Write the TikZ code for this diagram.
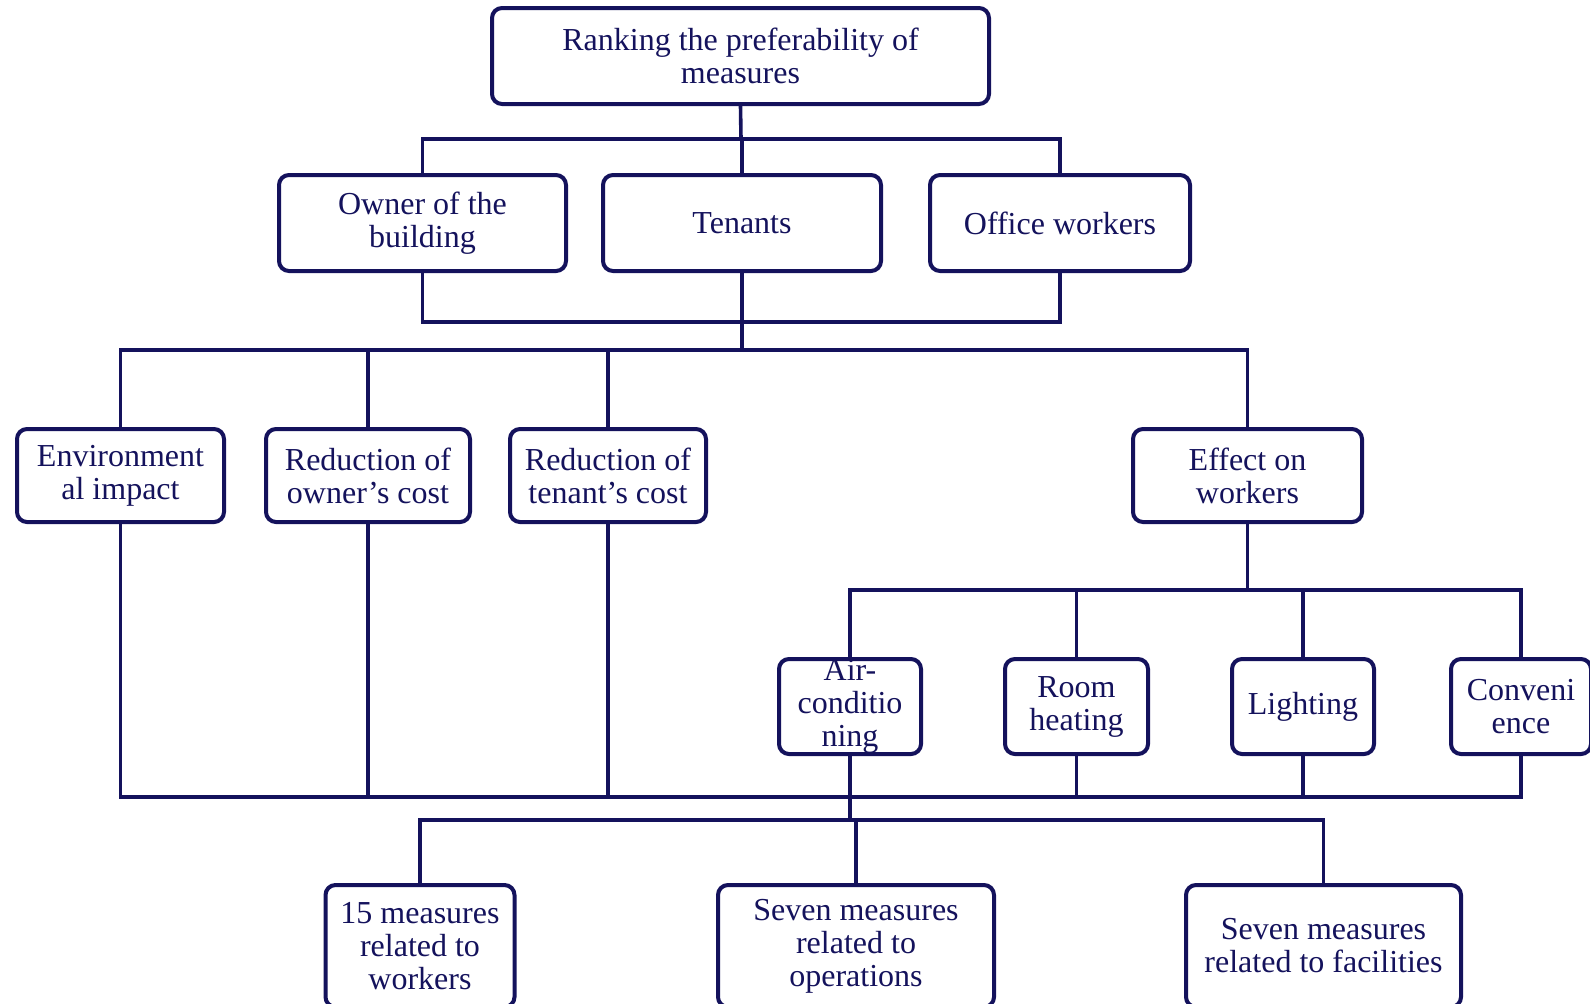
\documentclass[tikz,border=0pt]{standalone}
\usepackage{fontspec}
\setmainfont{Liberation Serif}
\usepackage{tikz}
\usetikzlibrary{positioning,shapes}
\definecolor{navy}{HTML}{14125C}

\begin{document}
\begin{tikzpicture}[x=0.5pt,y=-0.5pt,
	box/.style={draw=navy, line width=2pt, rounded corners=5pt, fill=white, text=navy, align=center, inner sep=0pt, font=\fontsize{16}{16.5}\selectfont},
	link/.style={draw=navy, line width=1.8pt}]
	\useasboundingbox (0,0) rectangle (1590,1003);
	% top of the tree
	\node[box, minimum width=248.5pt, minimum height=48pt] (rank) at (740.5,56) {Ranking the preferability of\\measures};
	% stakeholders
	\node[box, minimum width=143.5pt, minimum height=48pt] (owner) at (422.5,223) {Owner of the\\building};
	\node[box, minimum width=139pt, minimum height=48pt] (tenants) at (742,223) {Tenants};
	\node[box, minimum width=130pt, minimum height=48pt] (office) at (1060,223) {Office workers};
	% criteria
	\node[box, minimum width=103.5pt, minimum height=46.5pt] (env) at (120.5,475.5) {Environment\\al impact};
	\node[box, minimum width=102pt, minimum height=46.5pt] (ocost) at (368,475.5) {Reduction of\\owner's cost};
	\node[box, minimum width=98pt, minimum height=46.5pt] (tcost) at (608,475.5) {Reduction of\\tenant's cost};
	\node[box, minimum width=114.5pt, minimum height=46.5pt] (effect) at (1247.5,475.5) {Effect on\\workers};
	% sub-criteria
	\node[box, minimum width=71pt, minimum height=47.5pt] (air) at (850,706.5) {Air-\\conditio\\ning};
	\node[box, minimum width=71.5pt, minimum height=47.5pt] (room) at (1076.5,706.5) {Room\\heating};
	\node[box, minimum width=71pt, minimum height=47.5pt] (light) at (1303,706.5) {Lighting};
	\node[box, minimum width=70pt, minimum height=47.5pt] (conv) at (1521,706.5) {Conveni\\ence};
	% measures
	\node[box, minimum width=94.5pt, minimum height=61pt] (workers) at (420,946) {15 measures\\related to\\workers};
	\node[box, minimum width=138pt, minimum height=61pt] (operations) at (856,946) {Seven measures\\related to\\operations};
	\node[box, minimum width=137.5pt, minimum height=61pt] (facilities) at (1323.5,946) {Seven measures\\related to facilities};
	%
	\coordinate (busA) at (741,139);
	\coordinate (busB) at (744,322);
	\coordinate (busC) at (744,350);
	\coordinate (busD) at (1247.5,590);
	\coordinate (busE) at (850,797);
	\coordinate (busF) at (856,820);
	%
	\draw[link] (rank.south) -- (busA);
	\draw[link] (owner.north) |- (busA) -| (office.north);
	\draw[link] (tenants.north) -- (tenants.north |- busA);
	%
	\draw[link] (owner.south) |- (busB) -| (office.south);
	\draw[link] (tenants.south) -- (tenants.south |- busC);
	\draw[link] (env.north) |- (busC) -| (effect.north);
	\draw[link] (ocost.north) -- (ocost.north |- busC);
	\draw[link] (tcost.north) -- (tcost.north |- busC);
	%
	\draw[link] (effect.south) -- (busD);
	\draw[link] (air.north) |- (busD) -| (conv.north);
	\draw[link] (room.north) -- (room.north |- busD);
	\draw[link] (light.north) -- (light.north |- busD);
	%
	\draw[link] (env.south) |- (busE) -| (conv.south);
	\draw[link] (ocost.south) -- (ocost.south |- busE);
	\draw[link] (tcost.south) -- (tcost.south |- busE);
	\draw[link] (room.south) -- (room.south |- busE);
	\draw[link] (light.south) -- (light.south |- busE);
	\draw[link] (air.south) -- (air.south |- busF);
	%
	\draw[link] (workers.north) |- (busF) -| (facilities.north);
	\draw[link] (operations.north) -- (operations.north |- busF);
\end{tikzpicture}
\end{document}
